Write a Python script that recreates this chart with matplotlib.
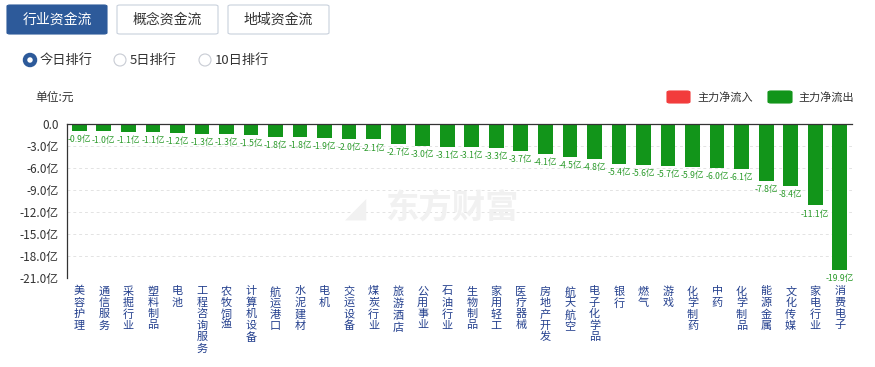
import matplotlib
matplotlib.use("Agg")
import matplotlib.pyplot as plt
from matplotlib.patches import FancyBboxPatch, Ellipse

plt.rcParams['font.family'] = ['Noto Sans CJK SC', 'DejaVu Sans']

# 行业资金流 今日排行 (亿元)
categories = ["美容护理", "通信服务", "采掘行业", "塑料制品", "电池", "工程咨询服务",
              "农牧饲渔", "计算机设备", "航运港口", "水泥建材", "电机", "交运设备",
              "煤炭行业", "旅游酒店", "公用事业", "石油行业", "生物制品", "家用轻工",
              "医疗器械", "房地产开发", "航天航空", "电子化学品", "银行", "燃气",
              "游戏", "化学制药", "中药", "化学制品", "能源金属", "文化传媒",
              "家电行业", "消费电子"]
values = [-0.9, -1.0, -1.1, -1.1, -1.2, -1.3, -1.3, -1.5, -1.8, -1.8, -1.9, -2.0,
          -2.1, -2.7, -3.0, -3.1, -3.1, -3.3, -3.7, -4.1, -4.5, -4.8, -5.4, -5.6,
          -5.7, -5.9, -6.0, -6.1, -7.8, -8.4, -11.1, -19.9]
yticks = [0, -3, -6, -9, -12, -15, -18, -21]

W, H = 875, 367
green = '#12951a'
red = '#f23c3c'
blue = '#2d5a9a'
navy = '#24408e'

fig = plt.figure(figsize=(W / 100, H / 100), dpi=100)


def fx(px):
    return px / W


def fy(py):
    return 1 - py / H


def rbox(x0, y0, x1, y1, fc, ec, r=3):
    p = FancyBboxPatch((fx(x0), fy(y1)), fx(x1 - x0), (y1 - y0) / H,
                       boxstyle="round,pad=0,rounding_size=%f" % (r / W),
                       fc=fc, ec=ec, lw=0.8, transform=fig.transFigure)
    fig.add_artist(p)


def dot(cx, cy, r, fc, ec, lw):
    fig.add_artist(Ellipse((fx(cx), fy(cy)), 2 * r / W, 2 * r / H,
                           transform=fig.transFigure, fc=fc, ec=ec, lw=lw))


# tabs
tabs = ["行业资金流", "概念资金流", "地域资金流"]
tab_x = [(7, 107), (117, 218), (228, 329)]
for i, (t, (a, b)) in enumerate(zip(tabs, tab_x)):
    if i == 0:
        rbox(a, 5, b, 34, blue, blue)
        col = 'white'
    else:
        rbox(a, 5, b, 34, 'white', '#c9d1dc')
        col = '#333333'
    fig.text(fx((a + b) / 2), fy(20), t, ha='center', va='center', fontsize=10, color=col)

# radio buttons
radios = ["今日排行", "5日排行", "10日排行"]
radio_x = [30, 120, 205]
for i, (t, cx) in enumerate(zip(radios, radio_x)):
    if i == 0:
        dot(cx, 60, 5, 'white', blue, 3.2)
    else:
        dot(cx, 60, 6, 'white', '#c8ccd4', 0.8)
    fig.text(fx(cx + 10), fy(60), t, ha='left', va='center', fontsize=9.5, color='#333333')

fig.text(fx(35), fy(97), "单位:元", ha='left', va='center', fontsize=8.5, color='#333333')

# legend
rbox(667, 91, 690, 103, red, red, r=3)
fig.text(fx(697), fy(97), "主力净流入", ha='left', va='center', fontsize=8, color='#333333')
rbox(768, 91, 792, 103, green, green, r=3)
fig.text(fx(798), fy(97), "主力净流出", ha='left', va='center', fontsize=8, color='#333333')

# watermark
fig.text(fx(452), fy(209), "东方财富", ha='center', va='center', fontsize=24,
         fontweight='bold', color='#f1f1f1', zorder=0)
fig.text(fx(356), fy(209), "◢", ha='center', va='center', fontsize=20,
         color='#f1f1f1', zorder=0, family='DejaVu Sans')

ax = fig.add_axes([fx(67), fy(278), fx(785), 154 / H])
ax.patch.set_alpha(0)
x = list(range(len(categories)))
ax.bar(x, values, width=0.6, color=green, zorder=3)
for xi, v in zip(x, values):
    ax.annotate("%.1f亿" % v, (xi, v), xytext=(0, -3), textcoords='offset points',
                ha='center', va='top', fontsize=6.2, color='#2a9a2a', zorder=4)

ax.set_xlim(-0.5, len(categories) - 0.5)
ax.set_ylim(-21, 0)
ax.set_yticks(yticks)
ax.set_yticklabels(["0.0"] + ["%.1f亿" % t for t in yticks[1:]], fontsize=8.5, color='#333333')
ax.yaxis.grid(True, linestyle=(0, (3, 3)), color='#e3e3e3', lw=0.7, zorder=0)
ax.tick_params(axis='y', length=0, pad=6)
ax.set_xticks([])
for s in ['right', 'bottom']:
    ax.spines[s].set_visible(False)
ax.spines['top'].set_color('#333333')
ax.spines['top'].set_linewidth(0.9)
ax.spines['top'].set_zorder(5)
ax.spines['left'].set_color('#333333')
ax.spines['left'].set_linewidth(0.9)

# vertical category labels (stacked characters)
for xi, name in zip(x, categories):
    ax.annotate("\n".join(name), (xi, -21), xytext=(0, -6), textcoords='offset points',
                ha='center', va='top', fontsize=8, color=navy, linespacing=1.15,
                annotation_clip=False)

fig.savefig("out.png", dpi=100)
